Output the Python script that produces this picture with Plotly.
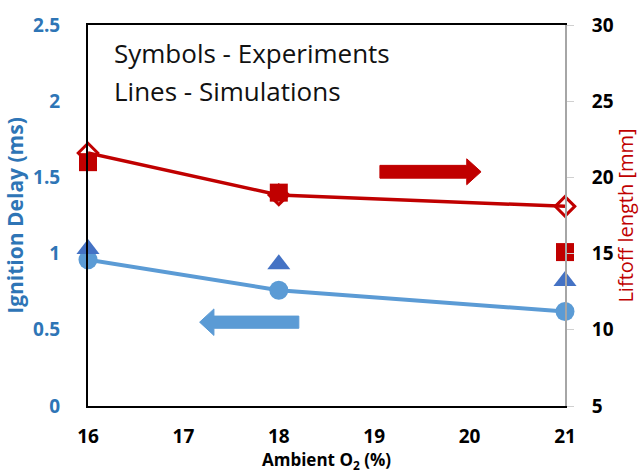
import plotly.graph_objects as go

# ---- data ----
o2 = [16, 18, 21]
ign_sim = [0.96, 0.76, 0.62]        # lines (simulations), ms
ign_exp = [1.03, 0.93, 0.82]        # symbols (experiments), ms
lift_sim = [21.6, 18.85, 18.1]      # lines (simulations), mm
lift_exp = [21.0, 19.0, 15.1]       # symbols (experiments), mm

x_ticks = [16, 17, 18, 19, 20, 21]
left_ticks = [0, 0.5, 1, 1.5, 2, 2.5]
right_ticks = [5, 10, 15, 20, 25, 30]

# ---- decoration (direction arrows): tail x, head-base x, tip x, centre y, half body, half head ----
red_arrow = (19.06, 19.97, 20.12, 20.37, 0.42, 0.85)     # on right axis
blue_arrow = (18.21, 17.32, 17.17, 0.55, 0.040, 0.087)   # on left axis

LBLUE = "#5B9BD5"
DBLUE = "#4472C4"
TBLUE = "#2E75B6"
RED = "#C00000"
FONT = "Open Sans"

fig = go.Figure()

fig.add_trace(go.Scatter(
    x=o2, y=ign_sim, mode="lines+markers",
    line=dict(color=LBLUE, width=4),
    marker=dict(symbol="circle", size=19, color=LBLUE),
    yaxis="y", showlegend=False, cliponaxis=False))
fig.add_trace(go.Scatter(
    x=o2, y=ign_exp, mode="markers",
    marker=dict(symbol="triangle-up", size=20, color=DBLUE),
    yaxis="y", showlegend=False, cliponaxis=False))
fig.add_trace(go.Scatter(
    x=o2, y=lift_sim, mode="lines+markers",
    line=dict(color=RED, width=3.5),
    marker=dict(symbol="diamond-open", size=15, color=RED, line=dict(width=3)),
    yaxis="y2", showlegend=False, cliponaxis=False))
fig.add_trace(go.Scatter(
    x=o2, y=lift_exp, mode="markers",
    marker=dict(symbol="square", size=18, color=RED),
    yaxis="y2", showlegend=False, cliponaxis=False))

fig.update_layout(
    width=639, height=473,
    margin=dict(l=88, r=74, t=25, b=67, autoexpand=False),
    plot_bgcolor="white", paper_bgcolor="white",
    font=dict(family=FONT),
    xaxis=dict(
        range=[16, 21], tickvals=x_ticks, ticktext=[str(v) for v in x_ticks],
        showgrid=False, zeroline=False, automargin=False,
        showline=True, linecolor="black", linewidth=2, mirror=True,
        ticks="outside", ticklen=0, ticklabelstandoff=12,
        tickfont=dict(family=FONT, size=19, color="black", weight="bold"),
        title=dict(text="Ambient O<sub>2</sub> (%)", standoff=4,
                   font=dict(family=FONT, size=17, color="black", weight="bold")),
    ),
    yaxis=dict(
        range=[0, 2.5], tickvals=left_ticks,
        ticktext=["0", "0.5", "1", "1.5", "2", "2.5"],
        showgrid=False, zeroline=False, automargin=False,
        showline=True, linecolor="black", linewidth=2,
        ticks="", ticklabelstandoff=22,
        tickfont=dict(family=FONT, size=19, color=TBLUE, weight="bold"),
        title=dict(text="Ignition Delay (ms)", standoff=4,
                   font=dict(family=FONT, size=21, color=TBLUE, weight="bold")),
    ),
    yaxis2=dict(
        range=[5, 30], tickvals=right_ticks,
        ticktext=[str(v) for v in right_ticks],
        overlaying="y", side="right", automargin=False,
        showgrid=False, zeroline=False,
        showline=True, linecolor="#A6A6A6", linewidth=2,
        ticks="outside", ticklen=7, tickcolor="#D0D0D0", tickwidth=1,
        ticklabelstandoff=14,
        tickfont=dict(family=FONT, size=19, color="black", weight="bold"),
        title=dict(text="Liftoff length [mm]", standoff=4,
                   font=dict(family=FONT, size=20, color=RED)),
    ),
)

# text labels
fig.add_annotation(text="Symbols - Experiments", xref="paper", yref="paper",
                   x=0.05, y=0.9265, xanchor="left", yanchor="middle",
                   showarrow=False, font=dict(family=FONT, size=26, color="#111111"))
fig.add_annotation(text="Lines - Simulations", xref="paper", yref="paper",
                   x=0.05, y=0.827, xanchor="left", yanchor="middle",
                   showarrow=False, font=dict(family=FONT, size=26, color="#111111"))


def arrow_path(a):
    tail, base, tip, yc, hb, hh = a
    return (f"M{tail},{yc - hb} L{base},{yc - hb} L{base},{yc - hh} L{tip},{yc} "
            f"L{base},{yc + hh} L{base},{yc + hb} L{tail},{yc + hb} Z")


fig.add_shape(type="path", path=arrow_path(red_arrow), xref="x", yref="y2",
              fillcolor=RED, line=dict(color=RED, width=1), layer="above")
fig.add_shape(type="path", path=arrow_path(blue_arrow), xref="x", yref="y",
              fillcolor=LBLUE, line=dict(color=LBLUE, width=1), layer="above")

fig.write_html("out.html")
